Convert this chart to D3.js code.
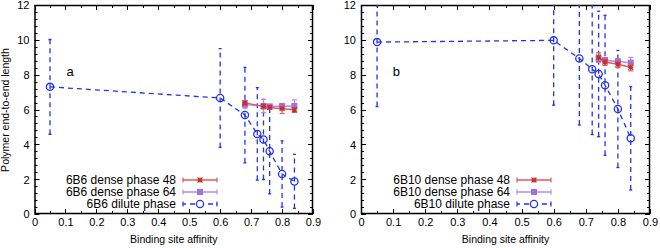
<!DOCTYPE html>
<html><head><meta charset="utf-8">
<script src="https://cdn.jsdelivr.net/npm/d3@7"></script>
<style>body{margin:0;background:#fff}svg{display:block}text{font-family:"Liberation Sans",Arial,sans-serif;fill:#000}</style>
</head><body><svg id="c" width="660" height="248"></svg>
<script>
// ---- data ----
const xTicks = [0,0.1,0.2,0.3,0.4,0.5,0.6,0.7,0.8,0.9];
const yTicks = [0,2,4,6,8,10,12];

// panel a (6B6)
const a_xDilute = [0.05,0.6,0.68,0.72,0.74,0.76,0.80,0.84];
const a_dilute  = [7.3,6.66,5.68,4.6,4.28,3.6,2.3,1.87];
const a_diluteErr = [2.72,2.84,2.74,2.66,2.3,2.45,1.9,1.55];
const a_xDense = [0.68,0.74,0.76,0.80,0.84];
const a_dense48 = [6.38,6.18,6.12,6.05,5.98];
const a_dense48Err = [0.15,0.15,0.1,0.28,0.15];
const a_dense64 = [6.28,6.2,6.18,6.18,6.2];
const a_dense64Err = [0.2,0.38,0.1,0.15,0.35];

// panel b (6B10)
const b_xDilute = [0.05,0.6,0.68,0.72,0.74,0.76,0.80,0.84];
const b_dilute  = [9.87,9.97,8.93,8.31,8.04,7.39,6.03,4.35];
const b_diluteErr = [3.7,3.72,3.82,3.75,3.6,4.02,3.36,2.97];
const b_xDense = [0.74,0.76,0.80,0.84];
const b_dense48 = [9.0,8.73,8.6,8.42];
const b_dense48Err = [0.25,0.2,0.2,0.2];
const b_dense64 = [8.9,8.83,8.76,8.69];
const b_dense64Err = [0.2,0.15,0.15,0.3];

const labelsA = ["6B6 dense phase 48","6B6 dense phase 64","6B6 dilute phase"];
const labelsB = ["6B10 dense phase 48","6B10 dense phase 64","6B10 dilute phase"];

const RED="#e05a5a", PURPLE="#b58cf2", BLUE="#2233ee";
const svg = d3.select("#c");

function panel(o){
  const x = d3.scaleLinear().domain([0,0.9]).range([o.x0,o.x1]);
  const y = d3.scaleLinear().domain([0,12]).range([214,5]);
  const g = svg.append("g");
  const id = "clip"+o.name;
  svg.append("defs").append("clipPath").attr("id",id).append("rect")
    .attr("x",o.x0).attr("y",5).attr("width",o.x1-o.x0).attr("height",209);

  // ticks (inward, mirrored)
  const tk = g.append("g").attr("stroke","#000").attr("stroke-width",1);
  d3.range(0,0.9001,0.05).forEach((v,i)=>{
    const L = i%2===0?5:3; const px=Math.round(x(v))+0.5;
    tk.append("line").attr("x1",px).attr("x2",px).attr("y1",214).attr("y2",214-L);
    tk.append("line").attr("x1",px).attr("x2",px).attr("y1",5).attr("y2",5+L);
  });
  d3.range(0,12.001,0.4).forEach((v,i)=>{
    const L = i%5===0?5:3; const py=Math.round(y(v))+0.5;
    tk.append("line").attr("y1",py).attr("y2",py).attr("x1",o.x0).attr("x2",o.x0+L);
    tk.append("line").attr("y1",py).attr("y2",py).attr("x1",o.x1).attr("x2",o.x1-L);
  });
  // tick labels via axes
  const ax = d3.axisBottom(x).tickValues(xTicks).tickSize(0).tickPadding(0).tickFormat(d=>d===0?"0":d3.format(".1f")(d));
  const gx = g.append("g").attr("transform","translate(0,226)").call(ax);
  gx.select(".domain").remove();
  gx.selectAll("text").attr("font-size",11).attr("dy",0).attr("font-family","Liberation Sans, Arial, sans-serif");
  const ay = d3.axisLeft(y).tickValues(yTicks).tickSize(0).tickPadding(0);
  const gy = g.append("g").attr("transform",`translate(${o.x0-5},0)`).call(ay);
  gy.select(".domain").remove();
  gy.selectAll("text").attr("font-size",11).attr("dy","0.36em").attr("font-family","Liberation Sans, Arial, sans-serif");

  // frame
  g.append("rect").attr("x",o.x0+0.5).attr("y",5.5).attr("width",o.x1-o.x0-1).attr("height",208)
    .attr("fill","none").attr("stroke","#000").attr("stroke-width",1.5);

  // x label
  g.append("text").attr("x",(o.x0+o.x1)/2).attr("y",243).attr("text-anchor","middle").attr("font-size",10.5).text("Binding site affinity");
  // panel letter
  g.append("text").attr("x",x(o.letterX)).attr("y",y(7.9)).attr("text-anchor","middle").attr("font-size",13).text(o.letter);

  const d = g.append("g").attr("clip-path",`url(#${id})`);
  const line = d3.line().x(p=>x(p[0])).y(p=>y(p[1]));

  // dilute
  const dil = o.xDil.map((v,i)=>[v,o.dil[i],o.dilErr[i]]);
  d.append("path").attr("d",line(dil)).attr("fill","none").attr("stroke",BLUE).attr("stroke-width",1.3).attr("stroke-dasharray","5,4");
  dil.forEach(p=>{
    const px=x(p[0]);
    d.append("line").attr("x1",px).attr("x2",px).attr("y1",y(p[1]-p[2])).attr("y2",y(p[1]+p[2]))
      .attr("stroke",BLUE).attr("stroke-width",1.3).attr("stroke-dasharray","5,4");
    [p[1]-p[2],p[1]+p[2]].forEach(v=>d.append("line").attr("x1",px-1.5).attr("x2",px+1.5).attr("y1",y(v)).attr("y2",y(v)).attr("stroke",BLUE).attr("stroke-width",1.3));
    d.append("circle").attr("cx",px).attr("cy",y(p[1])).attr("r",3.6).attr("fill","none").attr("stroke",BLUE).attr("stroke-width",1.3);
  });

  function dense(xs,vs,es,col,marker){
    const pts = xs.map((v,i)=>[v,vs[i],es[i]]);
    d.append("path").attr("d",line(pts)).attr("fill","none").attr("stroke",col).attr("stroke-width",1.5);
    pts.forEach(p=>{
      const px=x(p[0]);
      d.append("line").attr("x1",px).attr("x2",px).attr("y1",y(p[1]-p[2])).attr("y2",y(p[1]+p[2])).attr("stroke",col).attr("stroke-width",1.2);
      [p[1]-p[2],p[1]+p[2]].forEach(v=>d.append("line").attr("x1",px-2.5).attr("x2",px+2.5).attr("y1",y(v)).attr("y2",y(v)).attr("stroke",col).attr("stroke-width",1.2));
      marker(d,px,y(p[1]));
    });
  }
  const star=(s,cx,cy)=>{s.append("path").attr("d",`M${cx-2.5},${cy-2.5}L${cx+2.5},${cy+2.5}M${cx-2.5},${cy+2.5}L${cx+2.5},${cy-2.5}M${cx-2.5},${cy}L${cx+2.5},${cy}M${cx},${cy-2.5}L${cx},${cy+2.5}`).attr("stroke","#c03030").attr("stroke-width",1.2);};
  const sq=(s,cx,cy)=>{s.append("rect").attr("x",cx-3).attr("y",cy-3).attr("width",6).attr("height",6).attr("fill","#a070e8");};
  dense(o.xDen,o.d64,o.d64Err,PURPLE,sq);
  dense(o.xDen,o.d48,o.d48Err,RED,star);

  // legend
  const rows=[180,192,204];
  const lg = g.append("g");
  o.labels.forEach((t,i)=>{
    lg.append("text").attr("x",o.legText).attr("y",rows[i]).attr("dy","0.36em").attr("text-anchor","end").attr("font-size",12).text(t);
    const x1=o.legText+7, x2=x1+34, cy=rows[i], cx=(x1+x2)/2;
    const col=[RED,PURPLE,BLUE][i];
    const ln=lg.append("line").attr("x1",x1).attr("x2",x2).attr("y1",cy).attr("y2",cy).attr("stroke",col).attr("stroke-width",i===2?1.3:1.5);
    if(i===2) ln.attr("stroke-dasharray","3,4,5,4,5,4,5");
    [x1,x2].forEach(xx=>lg.append("line").attr("x1",xx).attr("x2",xx).attr("y1",cy-2.5).attr("y2",cy+2.5).attr("stroke",col).attr("stroke-width",1.2));
    if(i===0) star(lg,cx,cy);
    if(i===1) sq(lg,cx,cy);
    if(i===2) lg.append("circle").attr("cx",cx).attr("cy",cy).attr("r",3.6).attr("fill","#fff").attr("stroke",BLUE).attr("stroke-width",1.3);
  });
}

panel({name:"a",x0:34.5,x1:313,letter:"a",letterX:0.115,xDil:a_xDilute,dil:a_dilute,dilErr:a_diluteErr,
  xDen:a_xDense,d48:a_dense48,d48Err:a_dense48Err,d64:a_dense64,d64Err:a_dense64Err,labels:labelsA,legText:176});
panel({name:"b",x0:361,x1:650,letter:"b",letterX:0.11,xDil:b_xDilute,dil:b_dilute,dilErr:b_diluteErr,
  xDen:b_xDense,d48:b_dense48,d48Err:b_dense48Err,d64:b_dense64,d64Err:b_dense64Err,labels:labelsB,legText:510});

// y label
svg.append("text").attr("transform","translate(9,110) rotate(-90)").attr("text-anchor","middle").attr("font-size",10.5).text("Polymer end-to-end length");
</script></body></html>
